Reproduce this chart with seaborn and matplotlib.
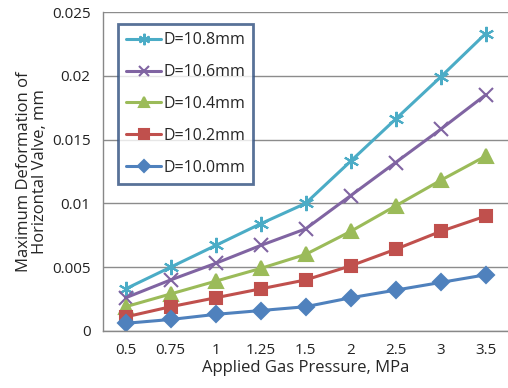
import numpy as np
import pandas as pd
import matplotlib
matplotlib.use("Agg")
import matplotlib.pyplot as plt
import seaborn as sns

pressure = ["0.5", "0.75", "1", "1.25", "1.5", "2", "2.5", "3", "3.5"]
d108 = [0.0033, 0.0050, 0.0067, 0.0084, 0.0100, 0.0133, 0.0166, 0.0199, 0.0233]
d106 = [0.0026, 0.0040, 0.0053, 0.0067, 0.0080, 0.0106, 0.0132, 0.0158, 0.0185]
d104 = [0.0019, 0.0029, 0.0039, 0.0049, 0.0060, 0.0078, 0.0098, 0.0118, 0.0137]
d102 = [0.0011, 0.0019, 0.0026, 0.0033, 0.0040, 0.0051, 0.0064, 0.0078, 0.0090]
d100 = [0.0006, 0.0009, 0.0013, 0.0016, 0.0019, 0.0026, 0.0032, 0.0038, 0.0044]
series_names = ["D=10.8mm", "D=10.6mm", "D=10.4mm", "D=10.2mm", "D=10.0mm"]
yticks = [0, 0.005, 0.01, 0.015, 0.02, 0.025]
ytick_labels = ["0", "0.005", "0.01", "0.015", "0.02", "0.025"]

sns.set_style("white")
plt.rcParams['font.family'] = ['Open Sans', 'DejaVu Sans']

rows = []
for name, vals in zip(series_names, [d108, d106, d104, d102, d100]):
    for i, v in enumerate(vals):
        rows.append({"idx": i, "val": v, "series": name})
df = pd.DataFrame(rows)

palette = {"D=10.8mm": "#4BACC6", "D=10.6mm": "#8064A2", "D=10.4mm": "#9BBB59",
           "D=10.2mm": "#C0504D", "D=10.0mm": "#4F81BD"}
markers = {"D=10.8mm": (6, 2, 0), "D=10.6mm": "x", "D=10.4mm": "^",
           "D=10.2mm": "s", "D=10.0mm": "D"}
msizes = {"D=10.8mm": 11, "D=10.6mm": 10, "D=10.4mm": 10, "D=10.2mm": 9, "D=10.0mm": 8}

fig = plt.figure(figsize=(5.08, 3.88), dpi=100)
ax = fig.add_axes([0.203, 0.147, 0.797, 0.822])

for name in series_names:
    sub = df[df.series == name]
    m = markers[name]
    sns.lineplot(data=sub, x="idx", y="val", ax=ax, color=palette[name], lw=2.2,
                 marker=m, markersize=msizes[name], markeredgecolor=palette[name],
                 markeredgewidth=1.5, label=name)

ax.set_xlim(-0.5, 8.5)
ax.set_ylim(0, 0.025)
ax.set_yticks(yticks)
ax.set_yticklabels(ytick_labels)
ax.set_xticks(range(len(pressure)))
ax.set_xticklabels(pressure)
ax.set_xticks(np.arange(-0.5, 9, 1.0), minor=True)
ax.tick_params(axis='x', which='major', length=0, labelsize=11, pad=9, colors='#222222')
ax.tick_params(axis='x', which='minor', length=5, width=1, color='#888888', direction='out')
ax.tick_params(axis='y', which='major', length=5, width=1, color='#888888', direction='out', labelsize=11, pad=4, labelcolor='#222222')
ax.grid(axis='y', color='#8c8c8c', lw=1)
ax.set_axisbelow(True)
for s in ['top', 'right']:
    ax.spines[s].set_visible(False)
for s in ['left', 'bottom']:
    ax.spines[s].set_color('#888888')
    ax.spines[s].set_linewidth(1)

ax.set_xlabel("Applied Gas Pressure, MPa", fontsize=12, labelpad=1)
ax.set_ylabel("Maximum Deformation of\nHorizontal Valve, mm", fontsize=12, labelpad=3, linespacing=1.0)

leg = ax.legend(loc='upper left', bbox_to_anchor=(0.037, 0.962), frameon=True, fancybox=False,
                fontsize=11.5, handlelength=2.2, labelspacing=1.0, borderpad=0.5,
                handletextpad=0.15, markerscale=0.75, borderaxespad=0)
leg.get_frame().set_edgecolor('#2E4E7E')
leg.get_frame().set_linewidth(2)

fig.savefig("out.png", dpi=100)
